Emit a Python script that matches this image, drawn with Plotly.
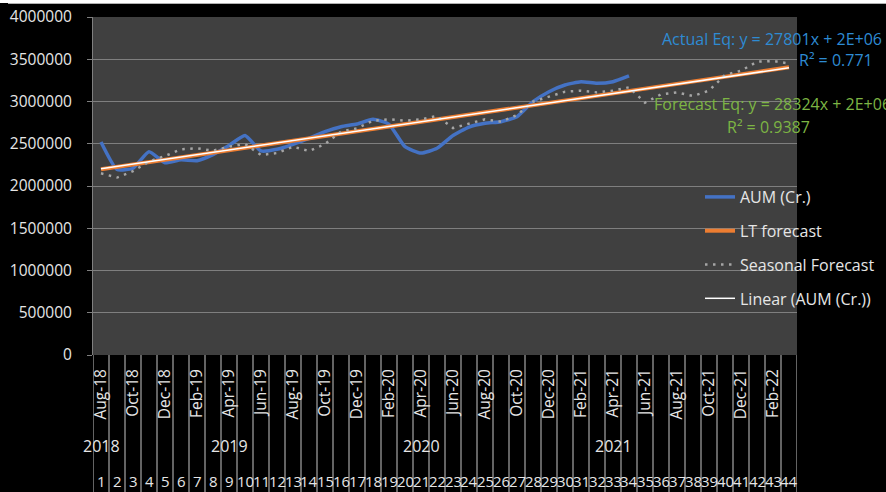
import plotly.graph_objects as go

# ---- data ----
months = ["Aug-18", "Sep-18", "Oct-18", "Nov-18", "Dec-18", "Jan-19", "Feb-19", "Mar-19",
          "Apr-19", "May-19", "Jun-19", "Jul-19", "Aug-19", "Sep-19", "Oct-19", "Nov-19",
          "Dec-19", "Jan-20", "Feb-20", "Mar-20", "Apr-20", "May-20", "Jun-20", "Jul-20",
          "Aug-20", "Sep-20", "Oct-20", "Nov-20", "Dec-20", "Jan-21", "Feb-21", "Mar-21",
          "Apr-21", "May-21", "Jun-21", "Jul-21", "Aug-21", "Sep-21", "Oct-21", "Nov-21",
          "Dec-21", "Jan-22", "Feb-22", "Mar-22"]
period = list(range(1, 45))

aum = [2520000, 2195000, 2210000, 2405000, 2275000, 2310000, 2300000, 2372000, 2480000,
       2598000, 2415000, 2434000, 2493000, 2564000, 2643000, 2702000, 2734000, 2789000,
       2730000, 2465000, 2390000, 2446000, 2598000, 2698000, 2742000, 2761000, 2820000,
       2998000, 3116000, 3195000, 3234000, 3215000, 3234000, 3302000]

seasonal = [2150000, 2100000, 2175000, 2290000, 2355000, 2434000, 2446000, 2418000, 2465000,
            2497000, 2367000, 2390000, 2465000, 2414000, 2497000, 2643000, 2682000, 2773000,
            2789000, 2773000, 2789000, 2828000, 2686000, 2742000, 2789000, 2761000, 2840000,
            2998000, 3057000, 3116000, 3128000, 3108000, 3128000, 3168000, 2986000, 3085000,
            3108000, 3065000, 3128000, 3314000, 3364000, 3471000, 3479000, 3450000]

# straight lines: read end points only
lt_period = [1, 44]
lt_forecast = [2198000, 3405000]
trend_period = [1, 44]
trend_aum = [2205000, 3400000]

year_labels = ["2018", "2019", "2020", "2021"]
year_at = [1.05, 9.05, 21.05, 33.05]

actual_eq = "Actual Eq: y = 27801x + 2E+06"
actual_r2 = "R² = 0.771"
forecast_eq = "Forecast Eq: y = 28324x + 2E+06"
forecast_r2 = "R² = 0.9387"

# ---- styling ----
FONT = "Open Sans"
TXT = "#e6e6e6"
GRID = "#7f7f7f"
FS_TICK = 15.5
FS_TXT = 16
W, H = 886, 492
L, R, T, B = 93, 797, 17, 355
pw, ph = R - L, B - T

def px_x(x):
    return (x - L) / pw

def px_y(y):
    return (B - y) / ph

fig = go.Figure()
fig.add_trace(go.Scatter(x=period[:len(aum)], y=aum, mode="lines", name="AUM (Cr.)",
                         line=dict(color="#4472C4", width=3.5, shape="spline", smoothing=0.5),
                         legendgroup="a"))
fig.add_trace(go.Scatter(x=lt_period, y=lt_forecast, mode="lines", name="LT forecast",
                         line=dict(color="#ED7D31", width=4), legendgroup="b"))
fig.add_trace(go.Scatter(x=period, y=seasonal, mode="lines", name="Seasonal Forecast",
                         line=dict(color="#A5A5A5", width=2.5, dash="2.5px,5.5px"),
                         legendgroup="c"))
fig.add_trace(go.Scatter(x=trend_period, y=trend_aum, mode="lines", name="Linear (AUM (Cr.))",
                         line=dict(color="#ffffff", width=1.5), legendgroup="d"))

shapes = []
for i in range(len(period) + 1):
    shapes.append(dict(type="line", xref="x", yref="paper", x0=i + 0.5, x1=i + 0.5,
                       y0=0, y1=-(H - B) / ph, line=dict(color="#858585", width=1.5),
                       layer="below"))
# chart border at top
shapes.append(dict(type="rect", xref="paper", yref="paper", x0=px_x(-5), x1=px_x(W + 5),
                   y0=px_y(3), y1=px_y(-2), fillcolor="#ffffff", line=dict(width=0)))
shapes.append(dict(type="line", xref="paper", yref="paper", x0=px_x(8), x1=px_x(W + 5),
                   y0=px_y(3.5), y1=px_y(3.5), line=dict(color="#b0b0b0", width=1)))

annotations = []
for lab, xa in zip(year_labels, year_at):
    annotations.append(dict(text=lab, x=xa, xref="x", y=px_y(446), yref="paper",
                            showarrow=False, font=dict(family=FONT, size=FS_TXT, color=TXT),
                            xanchor="center", yanchor="middle"))
for p in period:
    annotations.append(dict(text=str(p), x=p, xref="x", y=px_y(481), yref="paper",
                            showarrow=False, font=dict(family=FONT, size=15, color=TXT),
                            xanchor="center", yanchor="middle", borderpad=0))
annotations += [
    dict(text=actual_eq, x=px_x(884), y=px_y(39), xref="paper", yref="paper", showarrow=False,
         xanchor="right", yanchor="middle", font=dict(family=FONT, size=FS_TXT, color="#2E8BD3")),
    dict(text=actual_r2, x=px_x(875), y=px_y(60), xref="paper", yref="paper", showarrow=False,
         xanchor="right", yanchor="middle", font=dict(family=FONT, size=FS_TXT, color="#2E8BD3")),
    dict(text=forecast_eq, x=px_x(652), y=px_y(104), xref="paper", yref="paper", showarrow=False,
         xanchor="left", yanchor="middle", font=dict(family=FONT, size=FS_TXT, color="#7DB544")),
    dict(text=forecast_r2, x=px_x(812), y=px_y(127), xref="paper", yref="paper", showarrow=False,
         xanchor="right", yanchor="middle", font=dict(family=FONT, size=FS_TXT, color="#7DB544")),
]

fig.update_layout(
    width=W, height=H,
    margin=dict(l=L, r=W - R, t=T, b=H - B, pad=0, autoexpand=False),
    paper_bgcolor="#000000", plot_bgcolor="#404040",
    font=dict(family=FONT, size=FS_TXT, color=TXT),
    showlegend=True,
    legend=dict(x=px_x(700), y=px_y(180), xanchor="left", yanchor="top",
                bgcolor="rgba(0,0,0,0)", font=dict(family=FONT, size=FS_TXT, color=TXT),
                tracegroupgap=10),
    xaxis=dict(range=[0.5, 44.5], tickmode="array", tickvals=period[::2],
               ticktext=months[::2], tickangle=-90, showgrid=False, zeroline=False,
               showline=False, ticks="", ticklabelstandoff=10, automargin=False,
               tickfont=dict(family=FONT, size=FS_TICK, color=TXT)),
    yaxis=dict(range=[0, 4000000], dtick=500000, tickformat="d", showgrid=True,
               gridcolor=GRID, gridwidth=1, zeroline=False, showline=True, linecolor=GRID,
               ticks="outside", ticklen=5, tickcolor=GRID, ticklabelstandoff=12,
               automargin=False, tickfont=dict(family=FONT, size=FS_TICK, color=TXT)),
    shapes=shapes, annotations=annotations,
)

fig.write_html("out.html")
